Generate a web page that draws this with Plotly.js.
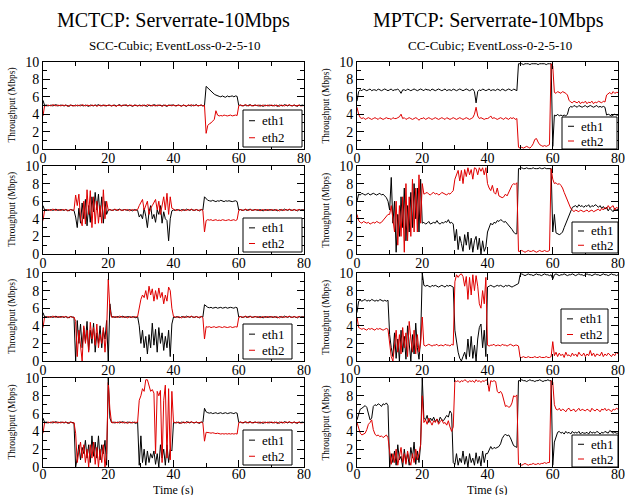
<!DOCTYPE html>
<html><head><meta charset="utf-8">
<script src="https://cdn.plot.ly/plotly-3.0.1.min.js"></script>
<style>html,body{margin:0;padding:0;background:#fff}#chart{width:625px;height:495px}</style>
</head><body><div id="chart"></div>
<script>
// ---------------- DATA ----------------
const seriesNames = ['eth1', 'eth2'];
const mainTitles = ['MCTCP: Serverrate-10Mbps', 'MPTCP: Serverrate-10Mbps'];
const subTitles = ['SCC-Cubic; EventLoss-0-2-5-10', 'CC-Cubic; EventLoss-0-2-5-10'];
const yTitle = 'Throughput (Mbps)';
const xTitle = 'Time (s)';

const time = [
0,0.5,1,1.5,2,2.5,3,3.5,4,4.5,5,5.5,6,6.5,7,7.5,8,8.5,9,9.5,
10,10.5,11,11.5,12,12.5,13,13.5,14,14.5,15,15.5,16,16.5,17,17.5,18,18.5,19,19.5,
20,20.5,21,21.5,22,22.5,23,23.5,24,24.5,25,25.5,26,26.5,27,27.5,28,28.5,29,29.5,
30,30.5,31,31.5,32,32.5,33,33.5,34,34.5,35,35.5,36,36.5,37,37.5,38,38.5,39,39.5,
40,40.5,41,41.5,42,42.5,43,43.5,44,44.5,45,45.5,46,46.5,47,47.5,48,48.5,49,49.5,
50,50.5,51,51.5,52,52.5,53,53.5,54,54.5,55,55.5,56,56.5,57,57.5,58,58.5,59,59.5,
60,60.5,61,61.5,62,62.5,63,63.5,64,64.5,65,65.5,66,66.5,67,67.5,68,68.5,69,69.5,
70,70.5,71,71.5,72,72.5,73,73.5,74,74.5,75,75.5,76,76.5,77,77.5,78,78.5,79,79.5,
80];

// MCTCP row 1
const MC1_eth1 = [
5.6,5,5.05,4.95,5,5.05,4.95,5,5.1,4.95,5,5.05,5,4.95,5.05,5,4.9,5.05,5,4.95,
5.05,4.95,5,5.05,5,4.95,5.05,5,4.9,5.05,5,4.95,5.05,5,5.1,4.95,5,5.05,4.95,5,
5,5.05,4.95,5,5.05,4.95,5,5.1,4.95,5,5.05,5,4.95,5.05,5,4.9,5.05,5,4.95,5.05,
5,4.95,5.05,5,4.9,5.05,5,4.95,5.1,5,4.95,5.05,5,4.95,5.05,5,4.9,5.05,5,5.05,
5.05,4.95,5,5.05,5,4.95,5.05,5,4.9,5.05,5,4.95,5.05,5,5.1,4.95,5,5.05,4.95,5,
7.2,7,6.8,6.6,6.4,6.3,6.2,6.1,6.05,6,6.1,6,5.95,6.1,6,6.05,6.1,6,6.1,6.05,
5,5.05,4.95,5,5.05,4.95,5,5.1,4.95,5,5.05,5,4.95,5.05,5,4.9,5.05,5,4.95,5.05,
5,4.95,5.05,5,4.9,5.05,5,4.95,5.1,5,4.95,5.05,5,4.95,5.05,5,4.9,5.05,5,5.05,
5];
const MC1_eth2 = [
3.8,5,4.95,5.05,5,4.95,5.1,5,4.95,5.05,5,4.95,5.05,5,5.05,4.9,5,5.05,4.95,5,
4.95,5.05,5,4.95,5.1,5,4.95,5.05,5,4.95,5.05,5,5.05,4.9,5,5.05,4.95,5,5.05,4.95,
5.05,5,4.95,5.05,5,4.9,5.05,5,4.95,5.05,5,5.1,4.95,5,5.05,4.95,5,5.05,4.95,5,
4.95,5.05,5,4.95,5.1,5,4.95,5.05,5,4.95,5.05,5,5.05,4.9,5,5.05,4.95,5,5.05,4.95,
5.05,5,4.95,5.05,5,4.9,5.05,5,4.95,5.05,5,5.1,4.95,5,5.05,4.95,5,5.05,4.95,5,
1.8,2.7,2.9,3,3.2,3.4,4.4,3.9,3.8,3.85,3.8,3.9,3.85,3.8,3.85,3.9,3.8,3.85,3.9,3.85,
4.95,5.05,5,4.95,5.1,5,4.95,5.05,5,4.95,5.05,5,5.05,4.9,5,5.05,4.95,5,5.05,4.95,
5.05,5,4.95,5.05,5,4.9,5.05,5,4.95,5.05,5,5.1,4.95,5,5.05,4.95,5,5.05,4.95,5,
5];

// MCTCP row 2
const MC2_eth1 = [
5.5,5,5.05,4.95,5,5.05,4.95,5,5.1,4.95,5,5.05,5,4.95,5.05,5,4.9,5.05,5,4.95,
4.2,3,5.2,3.5,5.8,4,6.2,3.2,5.5,3.6,6.5,4.8,7,5,6.8,4.2,6.5,3.5,6,4.5,
5,5.05,4.95,5,5.05,4.95,5,5.1,4.95,5,5.05,5,4.95,5.05,5,4.9,5.05,5,4.95,4.2,
4.5,4,5.2,4.3,3,4.8,5.5,4,4.5,3.6,5,4.5,5.5,3.5,4.8,4,3.8,1.5,4,4.9,
5,4.95,5.05,5,4.9,5.05,5,4.95,5.1,5,4.95,5.05,5,4.95,5.05,5,4.9,5.05,5,6.5,
6.3,6.1,6.05,6,6.1,6,5.95,6.05,6,6.1,6,5.95,6.05,6,6.05,6,5.95,6,6.05,5.95,
5,5.05,4.95,5,5.05,4.95,5,5.1,4.95,5,5.05,5,4.95,5.05,5,4.9,5.05,5,4.95,5.05,
5,4.95,5.05,5,4.9,5.05,5,4.95,5.1,5,4.95,5.05,5,4.95,5.05,5,4.9,5.05,5,5.05,
5];
const MC2_eth2 = [
3.8,5,4.95,5.05,5,4.95,5.1,5,4.95,5.05,5,4.95,5.05,5,5.05,4.9,5,5.05,4.95,5,
6.7,5.5,6.8,4,3.2,6,3.4,7.3,4.5,7.2,3,6.5,3.4,6,3.5,5.5,3.5,7.3,4,6,
4.95,5.05,5,4.95,5.1,5,4.95,5.05,5,4.95,5.05,5,5.05,4.9,5,5.05,4.95,5,5.05,5.5,
5.8,6.2,5,5.6,6,4.5,5.2,5.5,5.8,6.2,5,6,4.5,5.8,6.5,5,6.9,4.5,6.5,5.2,
5.05,5,4.95,5.05,5,4.9,5.05,5,4.95,5.05,5,5.1,4.95,5,5.05,4.95,5,5.05,4.95,2.5,
3.8,3.9,3.85,3.9,3.8,3.85,3.9,3.8,3.85,3.8,3.9,3.85,3.8,3.85,3.9,3.8,3.85,3.9,3.8,3.9,
4.95,5.05,5,4.95,5.1,5,4.95,5.05,5,4.95,5.05,5,5.05,4.9,5,5.05,4.95,5,5.05,4.95,
5.05,5,4.95,5.05,5,4.9,5.05,5,4.95,5.05,5,5.1,4.95,5,5.05,4.95,5,5.05,4.95,5,
5];

// MCTCP row 3
const MC3_eth1 = [
5.5,5,5.05,4.95,5,5.05,4.95,5,5.1,4.95,5,5.05,5,4.95,5.05,5,4.9,5.05,5,4.95,
0,4.6,2,4.2,1.5,3.8,2.2,4.5,1.2,3.5,2,4.3,1,3.2,2,4,1.5,3.5,2.5,4.6,
0,6.5,5,5.05,4.95,5,5.05,4.95,5,5.1,4.95,5,5.05,5,4.95,5.05,5,4.9,5.05,4,
2,3.5,1.5,2.8,0.8,3,1.5,4.3,1.8,3.6,1,3.8,2,3.2,1.2,2.8,1.5,3.5,0.5,4.2,
5,4.95,5.05,5,4.9,5.05,5,4.95,5.1,5,4.95,5.05,5,4.95,5.05,5,4.9,5.05,5,6.4,
6.2,6.1,6.05,6.1,6,6.05,6.1,6,6.05,6.1,6,6.05,6.1,6,6.05,6.1,6.05,6,6.1,6.05,
5,5.05,4.95,5,5.05,4.95,5,5.1,4.95,5,5.05,5,4.95,5.05,5,4.9,5.05,5,4.95,5.05,
5,4.95,5.05,5,4.9,5.05,5,4.95,5.1,5,4.95,5.05,5,4.95,5.05,5,4.9,5.05,5,5.05,
5];
const MC3_eth2 = [
3.8,5,4.95,5.05,5,4.95,5.1,5,4.95,5.05,5,4.95,5.05,5,5.05,4.9,5,5.05,4.95,5,
4.5,0.5,3.5,1.5,0,4,2,3.5,1,4.4,2.5,3.8,1.8,4.2,1.5,3,2,3.8,1,3.5,
9.3,6,5,4.95,5.05,5,4.95,5.1,5,4.95,5.05,5,4.9,5.05,5,4.95,5.05,5,5.05,6,
7,7.5,7.2,8,7,8.5,7.5,8.2,6.8,8,7,8.3,7.2,7.8,6.5,7.5,6.8,8.4,8,6,
5.05,5,4.95,5.05,5,4.9,5.05,5,4.95,5.05,5,5.1,4.95,5,5.05,4.95,5,5.05,4.95,2.5,
3.9,3.85,3.9,3.8,3.85,3.9,3.8,3.85,3.9,3.85,3.8,3.9,3.85,3.8,3.85,3.9,3.8,3.85,3.9,3.85,
4.95,5.05,5,4.95,5.1,5,4.95,5.05,5,4.95,5.05,5,5.05,4.9,5,5.05,4.95,5,5.05,4.95,
5.05,5,4.95,5.05,5,4.9,5.05,5,4.95,5.05,5,5.1,4.95,5,5.05,4.95,5,5.05,4.95,5,
5];

// MCTCP row 4
const MC4_eth1 = [
5.5,5,5.05,4.95,5,5.05,4.95,5,5.1,4.95,5,5.05,5,4.95,5.05,5,4.9,5.05,5,4.95,
0,1,2.5,0.8,2.2,1.5,3,1,2.5,0.5,3.5,1.2,2.8,1,3.5,0.8,2.5,1.5,3,0.2,
10,5.5,5,5.05,4.95,5,5.05,4.95,5,5.1,4.95,5,5.05,5,4.95,5.05,5,4.9,5.05,0.2,
3.5,0.5,2,0.2,1.8,0.5,1.5,1,1.8,0.3,1.5,0,2.5,1,2,0.2,2.5,0.5,2,1.8,
5,4.95,5.05,5,4.9,5.05,5,4.95,5.1,5,4.95,5.05,5,4.95,5.05,5,4.9,5.05,5,6.6,
6.2,6.1,6.05,6.1,6,6.05,6.1,6,6.05,6.1,6,6.05,6.1,6,6.05,6.1,6.05,6,6.1,6.05,
5,5.05,4.95,5,5.05,4.95,5,5.1,4.95,5,5.05,5,4.95,5.05,5,4.9,5.05,5,4.95,5.05,
5,4.95,5.05,5,4.9,5.05,5,4.95,5.1,5,4.95,5.05,5,4.95,5.05,5,4.9,5.05,5,5.05,
5];
const MC4_eth2 = [
3.8,5,4.95,5.05,5,4.95,5.1,5,4.95,5.05,5,4.95,5.05,5,5.05,4.9,5,5.05,4.95,5,
3.8,0.5,1.8,2.8,1,2.5,0.5,2,0,2.5,1,2.8,0.3,2.2,0,2,0.5,2.5,0,1.5,
9.5,6.5,5,4.95,5.05,5,4.95,5.1,5,4.95,5.05,5,4.9,5.05,5,4.95,5.05,5,5.05,7.5,
8,8.8,8.5,9.8,9.8,9,8.5,8.7,8.3,1.5,8.5,8,8.6,0.5,7.5,9.2,1,8.8,0.8,8.5,
5.05,5,4.95,5.05,5,4.9,5.05,5,4.95,5.05,5,5.1,4.95,5,5.05,4.95,5,5.05,4.95,2.9,
3.9,3.9,3.85,3.8,3.85,3.8,3.75,3.8,3.75,3.7,3.75,3.7,3.75,3.7,3.75,3.7,3.75,3.7,3.75,3.7,
4.95,5.05,5,4.95,5.1,5,4.95,5.05,5,4.95,5.05,5,5.05,4.9,5,5.05,4.95,5,5.05,4.95,
5.05,5,4.95,5.05,5,4.9,5.05,5,4.95,5.05,5,5.1,4.95,5,5.05,4.95,5,5.05,4.95,5,
5];

// MPTCP row 1
const MP1_eth1 = [
5.5,6.6,6.8,6.7,6.9,6.8,6.7,6.8,6.9,6.7,6.8,6.8,6.7,6.9,6.8,6.7,6.8,6.9,6.8,6.7,
6.8,6.9,6.7,6.8,6.8,6.9,6.7,6.4,6.8,6.8,6.7,6.9,6.8,6.7,6.8,6.9,6.8,6.7,6.8,6.9,
6.8,6.7,6.9,6.8,6.8,6.7,6.9,6.8,6.7,6.8,6.9,6.8,6.7,6.8,6.9,6.7,6.8,6.8,6.7,6.9,
6.8,6.7,6.8,6.9,6.8,6.7,6.8,6.9,6.8,6.7,6.8,6.9,6.6,5.3,6.6,6.8,6.7,6.9,6.8,6.7,
6.8,6.9,6.7,6.8,6.8,6.7,6.9,6.8,6.7,6.9,6.8,6.7,6.8,6.9,6.8,6.7,6.9,6.8,6.7,9.8,
9.8,9.8,9.7,9.8,9.8,9.8,9.7,9.8,9.8,9.8,9.8,9.7,9.8,9.8,9.8,9.8,9.7,9.8,9.8,9.8,
0.3,3.9,3.8,4,3.8,3.9,3.8,3.9,3.8,4,4.7,4.9,4.8,5,4.9,4.8,5,4.9,4.8,4.9,
5,4.8,4.9,5,4.9,4.8,4.9,5,4.8,4.9,4.8,4.9,4.8,3.9,4,3.9,3.8,3.9,4,3.9,
3.9];
const MP1_eth2 = [
4.8,4,3.6,3.5,3.6,3.4,3.5,3.6,3.5,3.4,3.5,3.6,3.5,3.4,3.6,3.5,3.4,3.5,3.6,3.5,
3.5,3.4,3.6,3.5,3.5,3.6,3.7,4,3.5,3.6,3.4,3.5,3.6,3.5,3.4,3.5,3.6,3.5,3.3,3.5,
3.5,3.6,3.4,3.5,3.6,3.5,3.4,3.5,3.6,3.5,3.4,3.5,3.6,3.5,3.4,3.6,3.5,3.4,3.5,3.6,
3.5,3.4,3.5,3.6,3.5,3.4,3.5,3.6,3.5,3.4,3.5,3.6,4,4.8,3.8,3.5,3.6,3.5,3.4,3.5,
3.5,3.6,3.8,3.5,3.6,3.5,3.4,3.5,3.6,3.5,3.4,3.6,3.5,3.4,3.6,3.5,3.6,3.4,3.5,0.2,
0.1,0.2,0.1,0.2,0.3,0.2,0.1,0.3,0.6,1.1,1.2,0.8,0.5,0.4,0.3,0.4,0.3,0.4,0.5,9.8,
9.5,6.5,6.4,6.6,6.5,6.4,6.6,6.5,6.4,6.2,5.6,5.4,5.3,5.5,5.4,5.3,5.5,5.2,5.4,5.3,
5.5,5.2,5.4,5.3,5.5,5.2,5.4,5.3,5.5,5.4,5.3,5.5,5.4,6.2,6.4,6.5,6.3,6.6,6.4,6.5,
6.5];

// MPTCP row 2
const MP2_eth1 = [
6,6.8,6.7,6.9,6.8,6.7,6.8,6.9,6.7,6.8,6.9,6.8,6.7,6.8,6.9,6.7,6.8,6.6,6.4,6,
5,8.7,3.5,6,0.2,4.5,2,6.5,3,7.5,1.5,5.5,2.5,7,3,8,4,7.5,2.5,8.5,
3.5,3.6,3.4,3.5,3.7,3.4,3.5,3.6,3.5,3.8,3.5,3.4,3.6,3.5,3.7,3.6,3.9,3.5,3.6,3.4,
1.5,2.8,0.5,2,1.2,0.3,2.2,1,2.5,0.5,1.8,0.2,1.5,2,0.5,1.8,0,1.5,0.3,0.8,
2.5,3,3.5,3.3,3.6,3.5,3.8,3.7,3.9,3.8,3.6,3.7,3.5,3.3,3,2.8,2.5,2.3,2.3,9.7,
9.7,9.8,9.7,9.7,9.8,9.7,9.7,9.7,9.8,9.7,9.7,9.7,9.8,9.7,9.7,9.8,9.7,9.7,9.7,9.7,
2.5,4.5,2.4,2.3,2.2,2.3,2.5,3,3.5,4,4.5,5,5.3,5.4,5.5,5.3,5.6,5.4,5.5,5.3,
5.5,5.4,5.6,5.3,5.5,5.4,5.6,5.5,5.3,5.5,5.2,5.4,5.1,5.3,4.9,5.2,5,4.8,5.2,5,
5.1];
const MP2_eth2 = [
4.5,3.8,3.6,3.5,3.7,3.6,3.5,3.6,3.4,3.5,3.6,3.5,3.7,3.6,3.5,3.6,3.8,4,4.3,4.5,
4.5,5.5,4,2.5,6,1,5.5,2,6.5,0.2,8,1.5,6.5,2,8.5,2.5,7.5,2.5,9,3.5,
8,6.8,6.9,7,6.8,6.7,6.9,7,6.8,6.9,6.7,6.8,7,6.9,6.8,6.7,6.9,6.8,7,7.2,
8.5,9,9.5,8.3,9.5,8,9.6,8.8,9.8,9,9.6,8.5,9.8,9.7,9,9.8,9.4,9.8,9,9.8,
8,7.5,7.2,7.8,7,6.8,7.5,6.6,6.5,6.4,6.5,6.8,6.6,7,7.5,7.8,8,7.9,8.1,0.3,
0.3,0.4,0.3,0.2,0.3,0.4,0.3,0.3,0.4,0.3,0.2,0.3,0.4,0.3,0.3,0.4,0.3,0.3,0.4,9.7,
8.5,8,8.1,7.9,8,7.8,7.5,7,6.5,6,5.6,5.2,5,4.8,5,4.9,4.8,5,4.9,4.8,
4.9,5,4.8,4.9,5,4.8,4.9,5,5.1,4.9,5.2,5,5.3,5.1,5.5,5.2,5.4,5.5,5,5.3,
5.2];

// MPTCP row 3
const MP3_eth1 = [
5.5,6.8,6.9,6.8,6.9,7,6.8,6.9,6.8,7,6.9,6.8,6.9,6.8,7,6.9,6.8,6.9,6.8,6.9,
3,1.5,0.5,3.2,0.3,2.5,0,3.5,1,2.8,0.2,4,1.5,0,3,0.8,4.3,1.5,0.2,2.5,
10,8.6,8.5,8.6,8.5,8.4,8.6,8.5,8.6,8.5,8.4,8.5,8.6,8.5,8.4,8.6,8.5,8.6,8.5,8.4,
3.5,2,1,0.3,0,0.5,1,0.2,2.5,0.5,2.8,0.3,1.8,0,2.5,3.8,4.2,1.5,3.5,0.5,
8.4,8.5,8.6,8.5,8.4,8.5,8.6,8.5,8.6,8.5,8.4,8.6,8.5,8.6,8.5,8.4,8.5,8.6,8.7,8.8,
9.8,9.9,9.8,9.7,9.8,9.9,9.8,9.8,9.7,9.8,9.9,9.8,9.8,9.7,9.8,9.9,9.8,9.8,9.7,9.8,
9.3,9.8,9.9,9.8,9.7,9.8,9.8,9.9,9.8,9.7,9.8,9.8,9.9,9.8,9.7,9.8,9.9,9.8,9.8,9.7,
9.8,9.9,9.8,9.8,9.7,9.8,9.9,9.8,9.8,9.7,9.8,9.9,9.8,9.8,9.7,9.8,9.9,9.8,9.8,9.7,
9.8];
const MP3_eth2 = [
5,3.8,3.7,3.6,3.7,3.6,3.5,3.7,3.6,3.7,3.6,3.5,3.7,3.6,3.7,3.6,3.5,3.6,3.7,3.6,
2,0.5,0,1.8,3.5,1,3,0.8,3.8,1.5,3.2,0.5,4.5,2.5,1,3.5,0.8,3,1,2,
5,1.8,1.7,1.8,1.9,1.8,1.7,1.8,1.8,1.9,1.7,1.8,1.8,1.7,1.9,1.8,1.8,1.7,1.9,1.8,
9,9.8,9.5,9.8,9.9,9.6,8.5,9.6,7,9.5,7.5,9.8,8,9.7,8.5,6.5,6,8,6.5,9.5,
1.8,1.7,1.8,1.8,1.9,1.7,1.8,1.8,1.7,1.9,1.8,1.8,1.7,1.8,1.9,1.8,1.7,1.8,1.8,1.7,
0.4,0.4,0.5,0.4,0.4,0.5,0.4,0.4,0.4,0.5,0.4,0.4,0.5,0.4,0.4,0.4,0.5,0.4,0.4,0.5,
2.2,0.6,1,0.5,0.9,0.6,0.8,0.4,1,0.6,0.7,0.5,0.9,0.6,0.8,0.5,1,0.7,0.6,0.9,
0.5,0.8,0.6,1.2,0.6,0.9,0.5,0.8,0.7,0.6,1,0.5,0.8,0.6,0.9,0.7,0.5,0.8,0.6,1,
0.8];

// MPTCP row 4
const MP4_eth1 = [
5.3,5.8,6.5,6.6,6.8,6.9,6.7,6,5.3,5.5,6.8,7,6.9,7.1,7,6.8,7.1,7,7.2,6.9,
0,1.5,0.5,1.8,0.2,2.5,0.8,1.2,0,2,0.5,1.5,0.2,2.2,1,2.8,0.3,1.8,0.5,2.5,
10,5.5,5.3,5.8,5,5.5,5.2,5.6,5.1,5.4,5,5.6,5.3,5.2,5.5,5.8,5.6,6.3,6,0.5,
0.3,1.5,0.2,1,0.5,1.8,0.3,1.2,0,1.5,0.5,1,0.2,1.6,0.4,1.2,0.1,1.8,0.5,1.5,
1.5,2,2.3,2,2.2,2.1,2.2,2.3,2.6,3.2,3.5,3.7,3.5,3.6,3.3,2.8,2.4,2.3,2.2,9.7,
9.7,9.8,9.7,9.7,9.6,9.7,9.8,9.7,9.7,9.6,9.7,9.7,9.8,9.7,9.6,9.7,9.7,9.8,9.7,9.7,
0.2,2.8,3.5,3.9,4,3.8,3.9,3.7,4,3.8,3.9,3.7,4,3.8,3.9,3.8,4,3.7,3.9,3.8,
3.8,3.9,3.7,4,3.8,3.9,3.8,4,3.9,3.7,3.9,3.8,4,3.9,3.8,4.1,3.9,3.8,3.9,3.8,
3.8];
const MP4_eth2 = [
5,4.5,3.8,3.6,3.7,3.8,4.2,4.8,5,5.3,4.2,3.7,3.5,3.6,3.4,3.5,3.3,3.5,3.6,3.3,
2,0.3,1.5,0.5,2,0.2,1.2,2.2,0.5,1.5,0.3,1.8,0.8,0.2,1.5,0.5,2,0.8,1.5,2.5,
8,5,5.3,4.8,5.5,5,4.7,5.2,5,5.4,4.8,5.1,5.3,4.9,5,4.7,5.2,4.5,4,4.5,
9.7,9.6,9.7,9.5,9.7,9.6,9.8,9.7,9.5,9.7,9.6,9.7,9.5,9.8,9.6,9.7,9.5,9.7,9.6,9.8,
9.7,8.5,9.7,9.6,9.7,9.6,8.5,8.3,8.5,8.2,7.5,6.8,6.9,6.7,6.8,7.2,8,7.9,8.1,0.3,
0.3,0.2,0.3,0.4,0.3,0.2,0.3,0.3,0.4,0.3,0.3,0.4,0.3,0.4,0.4,0.5,0.4,0.5,0.5,9.7,
9.5,7,6.5,6.4,6.6,6.3,6.5,6.4,6.2,6.5,6.6,6.3,6.4,6.5,6.2,6.4,6.6,6.3,6.5,6.4,
6.3,6.5,6.4,6.2,6.6,6.4,6.3,6.5,6.4,6.2,6.5,6.4,6.6,6.3,6.5,6.4,6.2,6.5,6.4,6.6,
6.5];

// ---------------- LAYOUT ----------------
const W = 625, H = 495;
const FONT = '"Liberation Serif", "Times New Roman", serif';
const COLORS = ['#000000', '#e00000'];
const colPx = [[43, 304], [357, 618]];
const rowPx = [[62, 149], [166, 254], [273, 361], [378, 467]];

const panels = [
  {col: 0, row: 0, s: [MC1_eth1, MC1_eth2], leg: [243, 110, 302, 147]},
  {col: 0, row: 1, s: [MC2_eth1, MC2_eth2], leg: [243, 218, 302, 252]},
  {col: 0, row: 2, s: [MC3_eth1, MC3_eth2], leg: [243, 324, 292, 359]},
  {col: 0, row: 3, s: [MC4_eth1, MC4_eth2], leg: [243, 430, 292, 465]},
  {col: 1, row: 0, s: [MP1_eth1, MP1_eth2], leg: [562, 117, 617, 149]},
  {col: 1, row: 1, s: [MP2_eth1, MP2_eth2], leg: [572, 222, 618, 253]},
  {col: 1, row: 2, s: [MP3_eth1, MP3_eth2], leg: [561, 309, 608, 343]},
  {col: 1, row: 3, s: [MP4_eth1, MP4_eth2], leg: [572, 435, 618, 467]}
];

const px = v => v / W;
const py = v => 1 - v / H;

const data = [];
const layout = {
  width: W, height: H,
  margin: {l: 0, r: 0, t: 0, b: 0},
  paper_bgcolor: '#ffffff', plot_bgcolor: '#ffffff',
  showlegend: false,
  font: {family: FONT, color: '#000'},
  annotations: [], shapes: []
};

const axisBase = {
  showline: true, linecolor: '#000', linewidth: 1, mirror: 'ticks',
  ticks: 'inside', ticklen: 7, tickwidth: 1, tickcolor: '#000',
  showgrid: false, zeroline: false, fixedrange: true,
  tickfont: {family: FONT, size: 14, color: '#000'}
};

panels.forEach((p, k) => {
  const n = k + 1;
  const sfx = n === 1 ? '' : String(n);
  const xa = 'x' + sfx, ya = 'y' + sfx;
  p.s.forEach((vals, j) => {
    data.push({
      type: 'scatter', mode: 'lines', x: time, y: vals,
      xaxis: xa, yaxis: ya, name: seriesNames[j],
      line: {color: COLORS[j], width: 1}, hoverinfo: 'skip'
    });
  });
  const [x0, x1] = colPx[p.col];
  const [y0, y1] = rowPx[p.row];
  layout['xaxis' + sfx] = Object.assign({}, axisBase, {
    domain: [px(x0), px(x1)], anchor: ya, range: [0, 80], dtick: 20, tick0: 0,
    ticklabelstandoff: p.row === 3 ? -6 : -4,
    minor: {ticks: 'inside', ticklen: 4, dtick: 10, tickcolor: '#000', tickwidth: 1, showgrid: false}
  });
  layout['yaxis' + sfx] = Object.assign({}, axisBase, {
    domain: [py(y1), py(y0)], anchor: xa, range: [0, 10], dtick: 2, tick0: 0,
    minor: {ticks: 'inside', ticklen: 4, dtick: 1, tickcolor: '#000', tickwidth: 1, showgrid: false}
  });
  // y-axis title
  layout.annotations.push({
    xref: 'paper', yref: 'paper', x: px(x0 - 31), y: py((y0 + y1) / 2),
    text: yTitle, textangle: -90, showarrow: false,
    xanchor: 'center', yanchor: 'middle',
    font: {family: FONT, size: 9.5, color: '#000'}
  });
  // legend box
  const [lx0, ly0, lx1, ly1] = p.leg;
  const lh = ly1 - ly0;
  layout.shapes.push({
    type: 'rect', xref: 'paper', yref: 'paper',
    x0: px(lx0), x1: px(lx1), y0: py(ly1), y1: py(ly0),
    line: {color: '#000', width: 1}, fillcolor: '#ffffff', layer: 'above'
  });
  const rowsY = [ly0 + lh * 0.29, ly0 + lh * 0.75];
  seriesNames.forEach((nm, j) => {
    layout.shapes.push({
      type: 'line', xref: 'paper', yref: 'paper',
      x0: px(lx0 + 6), x1: px(lx0 + 12), y0: py(rowsY[j]), y1: py(rowsY[j]),
      line: {color: COLORS[j], width: 1}, layer: 'above'
    });
    layout.annotations.push({
      xref: 'paper', yref: 'paper', x: px(lx0 + 18), y: py(rowsY[j]),
      text: nm, showarrow: false, xanchor: 'left', yanchor: 'middle',
      height: 13, borderpad: 0,
      font: {family: FONT, size: 13, color: '#000'}
    });
  });
});

// column titles
[[173.5, 0], [488.5, 1]].forEach(([cx, c]) => {
  layout.annotations.push({
    xref: 'paper', yref: 'paper', x: px(cx), y: py(20),
    text: mainTitles[c], showarrow: false, xanchor: 'center', yanchor: 'middle',
    font: {family: FONT, size: 20, color: '#000'}
  });
  layout.annotations.push({
    xref: 'paper', yref: 'paper', x: px(cx + 1), y: py(45),
    text: subTitles[c], showarrow: false, xanchor: 'center', yanchor: 'middle',
    font: {family: FONT, size: 13, color: '#000'}
  });
});
// x-axis titles
[173.5, 487.5].forEach(cx => {
  layout.annotations.push({
    xref: 'paper', yref: 'paper', x: px(cx), y: py(489.5),
    text: xTitle, showarrow: false, xanchor: 'center', yanchor: 'middle',
    height: 11, borderpad: 0,
    font: {family: FONT, size: 12, color: '#000'}
  });
});

Plotly.newPlot('chart', data, layout, {displayModeBar: false, staticPlot: true});
</script>
</body></html>
